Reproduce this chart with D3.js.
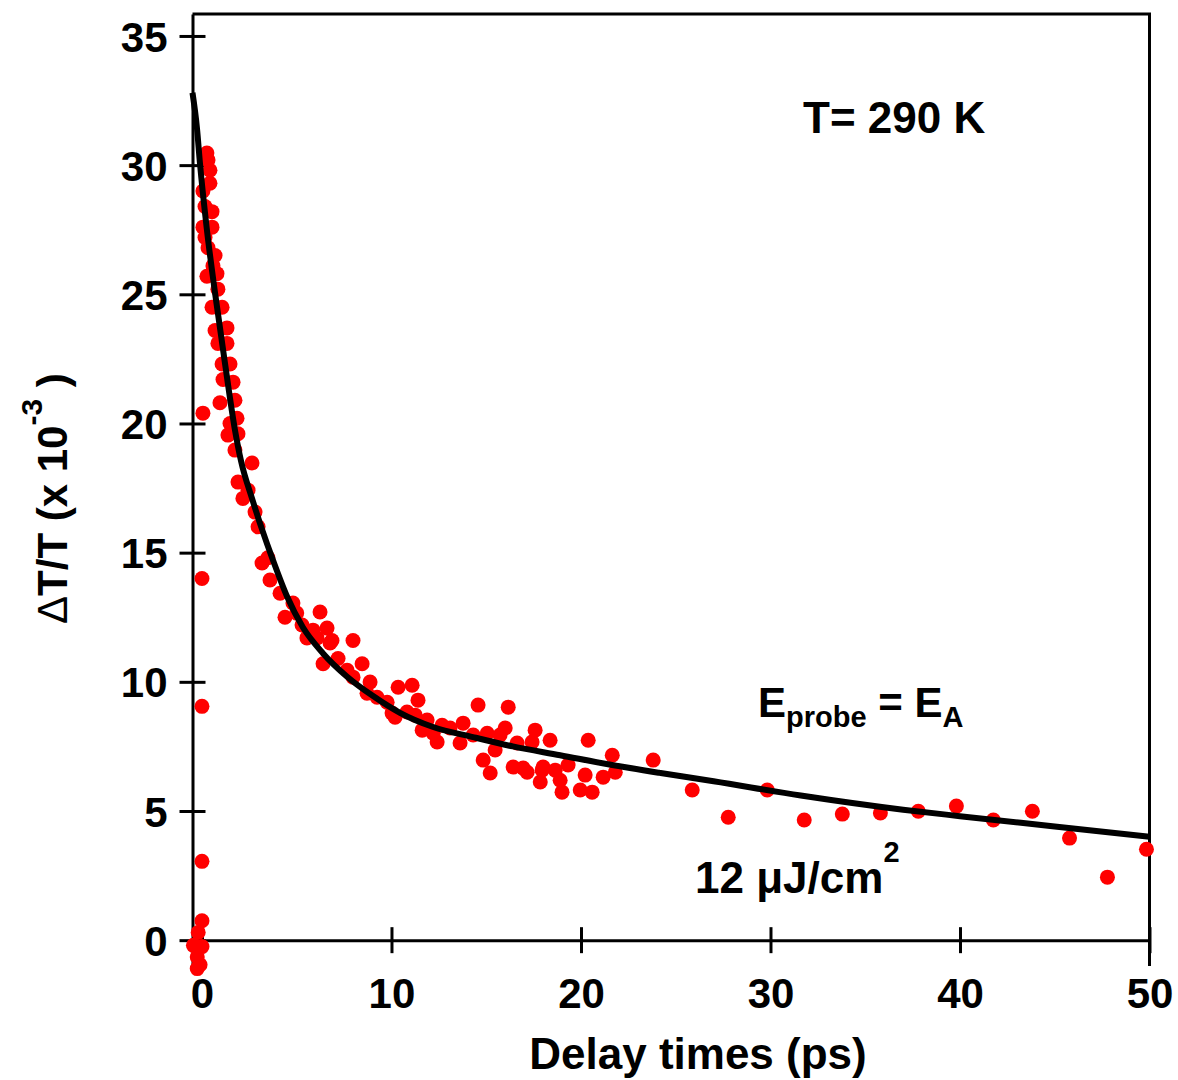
<!DOCTYPE html>
<html>
<head>
<meta charset="utf-8">
<script src="https://cdn.jsdelivr.net/npm/d3@7"></script>
<style>
	html, body { margin: 0; padding: 0; background: #fff; }
	svg text { font-family: "Liberation Sans", Arial, sans-serif; font-weight: bold; fill: #000; }
</style>
</head>
<body>
<div id="chart"></div>
<script>
// measured points: delay time (ps) and dT/T (x 10^-3)
const delay = [
	-0.2, -0.45, 0.0, -0.25, -0.1, -0.25, 0.0, 0.0, 0.0, 0.0, 0.05,
	0.26, 0.32, 0.42, 0.42, 0.05, 0.16, 0.53, 0.05, 0.53, 0.16, 0.32, 0.69, 0.58, 0.26, 0.79, 0.84,
	0.53, 1.06, 0.69, 1.32, 0.84, 1.32, 1.06, 1.48, 1.11, 1.64, 0.95, 1.74, 1.48, 1.85, 1.37, 1.74, 1.9,
	2.64, 1.9, 2.43, 2.16, 2.8, 2.96, 3.17, 3.48, 3.59, 4.12, 4.38, 4.8, 5.0, 6.23, 5.28, 5.86, 6.6,
	6.07, 6.86, 7.97, 7.18, 6.39, 8.45, 7.66, 7.97, 8.87, 8.71, 9.24, 5.54, 6.76,
	9.77, 10.03, 10.19, 10.35, 11.09, 11.4, 10.82, 11.25, 11.62, 11.88, 12.2, 12.41, 12.67, 13.09,
	13.62, 13.78, 14.31, 14.57, 14.84, 15.05, 15.21, 15.47, 15.73, 16.0, 16.16, 16.42, 16.63, 16.95,
	17.16, 17.42, 17.58, 17.95, 17.85, 18.37, 18.64, 18.9, 19.0, 19.32, 19.96, 20.22, 20.38, 20.59,
	21.17, 21.65, 21.81, 18.0,
	23.81, 25.87, 27.77, 29.83, 31.78, 33.79, 35.8, 37.8, 39.81, 41.76, 43.82, 45.78, 47.78, 49.84
];
const signal = [
	0.3, -0.2, -0.25, -0.65, -0.95, -1.1, 0.75, 3.05, 9.05, 14.0, 20.4,
	30.47, 30.2, 29.8, 29.3, 29.0, 28.4, 28.2, 27.6, 27.6, 27.2, 26.8, 26.5, 26.1, 25.7, 25.8, 25.2,
	24.5, 24.5, 23.6, 23.7, 23.1, 23.1, 22.3, 22.3, 21.7, 21.6, 20.8, 20.9, 20.0, 20.2, 19.55, 18.97, 19.6,
	18.47, 17.73, 17.42, 17.1, 16.57, 16.0, 14.6, 14.8, 13.94, 13.43, 12.5, 13.05, 12.66, 12.7, 12.2, 12.0, 12.08,
	11.7, 11.6, 11.6, 10.9, 10.7, 10.7, 10.45, 10.18, 9.99, 9.56, 9.4, 11.7, 11.5,
	9.21, 8.79, 8.63, 9.79, 9.87, 9.29, 8.83, 8.71, 8.13, 8.52, 8.01, 7.67, 8.32, 8.21,
	7.63, 8.4, 7.94, 9.1, 6.97, 8.01, 6.47, 7.36, 7.94, 8.21, 9.02, 6.7, 7.63, 6.66,
	6.5, 7.67, 8.13, 6.58, 6.12, 7.74, 6.58, 6.19, 5.73, 6.78, 5.81, 6.39, 7.74, 5.73,
	6.31, 7.16, 6.5, 6.7,
	6.97, 5.81, 4.76, 5.81, 4.65, 4.88, 4.92, 4.99, 5.19, 4.65, 4.99, 3.95, 2.44, 3.52
];

// fitted curve
const fitDelay = [-0.5, -0.26, -0.11, 0.26, 0.69, 1.21, 1.74, 2.06, 2.64, 3.17, 3.75, 4.49, 5.33, 6.39,
	7.66, 9.03, 10.45, 12.2, 14.3, 16.4, 18.9, 21.5, 24.2, 27, 31.6, 37, 40, 45, 50];
const fitSignal = [32.8, 31.4, 30.1, 27.5, 25.05, 22.35, 19.75, 18.55, 17.1, 15.9, 14.7, 13.3, 12.1, 11.1,
	10.2, 9.45, 8.8, 8.25, 7.86, 7.5, 7.16, 6.8, 6.47, 6.15, 5.6, 5.05, 4.8, 4.4, 4.0];

const xTicks = [0, 10, 20, 30, 40, 50];
const yTicks = [0, 5, 10, 15, 20, 25, 30, 35];

const size = { width: 1178, height: 1080 };
const frame = { left: 192.5, right: 1149.5, top: 14, bottom: 966 };

const scale = {
	x: d3.scaleLinear().domain([-0.5, 50]).range([frame.left, frame.right]),
	y: d3.scaleLinear().domain([-1, 35.85]).range([frame.bottom, frame.top]),
};

const svg = d3.select('#chart').append('svg')
	.attr('width', size.width).attr('height', size.height);

// frame: top line + right side
svg.append('path')
	.attr('d', `M${frame.left},${frame.top}H${frame.right}V${frame.bottom}`)
	.attr('fill', 'none').attr('stroke', '#000').attr('stroke-width', 3);

const axis = {
	x: svg.append('g').attr('transform', `translate(0, ${scale.y(0)})`),
	y: svg.append('g').attr('transform', `translate(${frame.left}, 0)`),
};

axis.x.call(d3.axisBottom(scale.x).tickValues(xTicks).tickFormat(d3.format('d'))
	.tickSizeInner(13).tickSizeOuter(0).tickPadding(25));
axis.y.call(d3.axisLeft(scale.y).tickValues(yTicks).tickFormat(d3.format('d'))
	.tickSizeInner(13).tickSizeOuter(0).tickPadding(12));

axis.x.selectAll('.tick line').attr('y1', -13);
axis.y.selectAll('.tick line').attr('x1', 13);
svg.selectAll('.domain, .tick line').attr('stroke', '#000').attr('stroke-width', 3);
svg.selectAll('.tick text').style('font-size', '42px').attr('fill', '#000');
axis.y.selectAll('.tick text').attr('dy', '0.36em');

// points
svg.append('g').selectAll('circle')
	.data(delay.map((t, i) => [t, signal[i]]))
	.join('circle')
	.attr('cx', d => scale.x(d[0]))
	.attr('cy', d => scale.y(d[1]))
	.attr('r', 7.5)
	.attr('fill', '#ff0000');

// fit
const line = d3.line()
	.x(d => scale.x(d[0]))
	.y(d => scale.y(d[1]))
	.curve(d3.curveMonotoneX);

svg.append('path')
	.attr('d', line(fitDelay.map((t, i) => [t, fitSignal[i]])))
	.attr('fill', 'none').attr('stroke', '#000').attr('stroke-width', 6)
	.attr('stroke-linejoin', 'round');

// axis titles
svg.append('text')
	.attr('x', 698).attr('y', 1069)
	.attr('text-anchor', 'middle')
	.style('font-size', '44px')
	.text('Delay times (ps)');

const ylab = svg.append('text')
	.attr('transform', 'translate(67, 624) rotate(-90)')
	.style('font-size', '42px');
ylab.append('tspan').style('font-weight', 'normal').text('\u0394');
ylab.append('tspan').text('T/T (x 10');
ylab.append('tspan').attr('dy', -25).style('font-size', '30px').text('-3');
ylab.append('tspan').attr('dy', 25).text(' )');

// annotations
svg.append('text')
	.attr('x', 803).attr('y', 133)
	.style('font-size', '44px')
	.text('T= 290 K');

const probe = svg.append('text')
	.attr('x', 758).attr('y', 717)
	.style('font-size', '42px');
probe.append('tspan').text('E');
probe.append('tspan').attr('dy', 10).style('font-size', '29px').text('probe');
probe.append('tspan').attr('dy', -10).text(' = E');
probe.append('tspan').attr('dy', 10).style('font-size', '29px').text('A');

const fluence = svg.append('text')
	.attr('x', 695).attr('y', 893)
	.style('font-size', '44px');
fluence.append('tspan').text('12 \u03bcJ/cm');
fluence.append('tspan').attr('dy', -31).style('font-size', '29px').text('2');
</script>
</body>
</html>
